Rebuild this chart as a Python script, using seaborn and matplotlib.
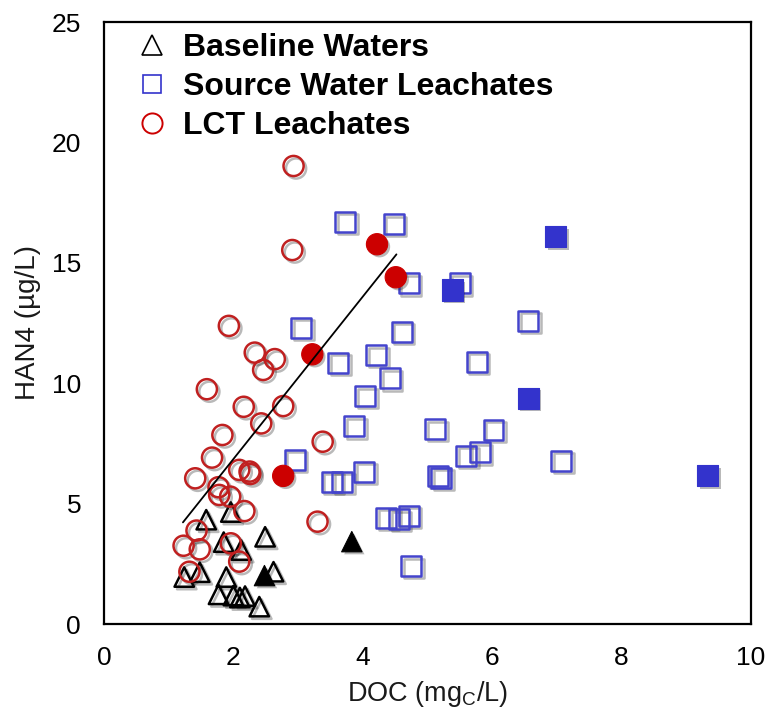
import numpy as np
import pandas as pd
import matplotlib
matplotlib.use("Agg")
import matplotlib.pyplot as plt
import seaborn as sns
from matplotlib import patheffects as pe
from matplotlib.lines import Line2D

# ---------------- data ----------------
# Baseline waters
base_doc = [1.58, 1.96, 2.49, 1.85, 2.12, 1.24, 1.48, 1.89, 2.62, 1.77, 2.00, 2.10, 2.18, 2.40]
base_han4 = [4.33, 4.65, 3.62, 3.40, 3.07, 1.95, 2.15, 1.95, 2.17, 1.23, 1.18, 1.10, 1.16, 0.72]
base_doc_f = [2.48, 3.83]
base_han4_f = [2.01, 3.42]

# Source water leachates
src_doc = [3.73, 4.48, 4.71, 5.50, 3.05, 4.60, 6.56, 3.62, 4.21, 4.42, 5.76, 4.04, 3.87, 5.12,
           6.02, 2.95, 5.81, 5.60, 7.07, 4.02, 3.52, 3.68, 5.16, 5.21, 4.36, 4.56, 4.71, 4.75]
src_han4 = [16.71, 16.61, 14.15, 14.15, 12.30, 12.14, 12.60, 10.85, 11.17, 10.20, 10.89, 9.47, 8.22, 8.10,
            8.06, 6.82, 7.13, 6.98, 6.78, 6.33, 5.91, 5.91, 6.15, 6.08, 4.42, 4.36, 4.49, 2.41]
src_doc_f = [5.38, 6.98, 6.56, 9.33]
src_han4_f = [13.87, 16.08, 9.37, 6.15]

# LCT leachates
lct_doc = [2.93, 2.91, 1.93, 2.33, 2.64, 2.46, 1.59, 2.16, 2.77, 2.43, 1.83, 3.38, 1.67, 2.09,
           2.25, 2.26, 1.41, 1.77, 1.78, 1.95, 2.17, 3.30, 1.43, 1.23, 1.48, 1.96, 2.09, 1.32]
lct_han4 = [19.02, 15.53, 12.38, 11.27, 11.00, 10.55, 9.75, 9.02, 9.05, 8.33, 7.85, 7.57, 6.91, 6.40,
            6.33, 6.23, 6.05, 5.68, 5.36, 5.29, 4.69, 4.25, 3.88, 3.25, 3.10, 3.35, 2.59, 2.17]
lct_doc_f = [4.22, 4.51, 3.22, 2.77]
lct_han4_f = [15.77, 14.40, 11.20, 6.15]

# trend line through LCT leachates
fit_doc = [1.22, 4.52]
fit_han4 = [4.22, 15.35]

legend_labels = ["Baseline Waters", "Source Water Leachates", "LCT Leachates"]
x_ticks = [0, 2, 4, 6, 8, 10]
y_ticks = [0, 5, 10, 15, 20, 25]

# ---------------- style ----------------
sns.set_theme(style="white")
plt.rcParams["font.family"] = ["Liberation Sans", "DejaVu Sans"]
plt.rcParams["mathtext.fontset"] = "custom"
plt.rcParams["mathtext.rm"] = "Liberation Sans"

RED = "#CC0000"
RED_EDGE = "#C02020"
BLUE = "#3333CC"
BLUE_EDGE = "#4444CC"

fig = plt.figure(figsize=(7.69, 7.13), dpi=100)
ax = fig.add_axes([104 / 769, 89 / 713, 647 / 769, 602 / 713])

open_fx = [pe.SimpleLineShadow(offset=(1.8, -1.8), shadow_color="k", alpha=0.3), pe.Normal()]
fill_fx = [pe.SimplePatchShadow(offset=(1.8, -1.8), shadow_rgbFace="k", alpha=0.3), pe.Normal()]


def scat(xs, ys, marker, size, face, edge, lw, fx, z):
    df = pd.DataFrame({"DOC": xs, "HAN4": ys})
    n0 = len(ax.collections)
    sns.scatterplot(data=df, x="DOC", y="HAN4", ax=ax, marker=marker, s=size,
                    facecolor=face, edgecolor=edge, linewidth=lw, zorder=z, legend=False)
    for c in ax.collections[n0:]:
        c.set_path_effects(fx)


scat(base_doc, base_han4, "^", 195, "none", "black", 1.8, open_fx, 3)
scat(src_doc, src_han4, "s", 205, "none", BLUE_EDGE, 1.8, open_fx, 4)
scat(lct_doc, lct_han4, "o", 210, "none", RED_EDGE, 1.8, open_fx, 5)
scat(src_doc_f, src_han4_f, "s", 230, BLUE, BLUE, 0.8, fill_fx, 6)
scat(lct_doc_f, lct_han4_f, "o", 235, RED, RED, 0.8, fill_fx, 7)
scat(base_doc_f, base_han4_f, "^", 215, "black", "black", 0.8, fill_fx, 7)

sns.lineplot(x=fit_doc, y=fit_han4, ax=ax, color="black", linewidth=1.3, zorder=8)

ax.set_xlim(0, 10)
ax.set_ylim(0, 25)
ax.set_xticks(x_ticks)
ax.set_yticks(y_ticks)
ax.set_xticklabels([str(v) for v in x_ticks])
ax.set_yticklabels([str(v) for v in y_ticks])

for sp in ax.spines.values():
    sp.set_visible(True)
    sp.set_color("black")
    sp.set_linewidth(1.6)

ax.tick_params(axis="both", direction="inout", length=11, width=1.5, color="black",
               labelcolor="black")
ax.tick_params(axis="x", labelsize=19, pad=10.5)
ax.tick_params(axis="y", labelsize=19, pad=11)

ax.set_xlabel("DOC (mg$_\\mathregular{C}$/L)", fontsize=19.5, labelpad=6, color="#1a1a1a")
ax.set_ylabel("HAN4 (µg/L)", fontsize=20, labelpad=8, color="#1a1a1a")
ax.grid(False)

handles = [
    Line2D([], [], linestyle="none", marker="^", markersize=14, markerfacecolor="none",
           markeredgecolor="black", markeredgewidth=1.2),
    Line2D([], [], linestyle="none", marker="s", markersize=13.5, markerfacecolor="none",
           markeredgecolor=BLUE, markeredgewidth=1.2),
    Line2D([], [], linestyle="none", marker="o", markersize=14.5, markerfacecolor="none",
           markeredgecolor=RED, markeredgewidth=1.4),
]
leg = ax.legend(handles, legend_labels, loc="upper left",
                bbox_to_anchor=((136 - 104) / 647, 1 - (33 - 22) / 602),
                frameon=False, borderpad=0, borderaxespad=0, handlelength=1.0,
                handletextpad=0.47, labelspacing=0.28,
                prop={"family": "Liberation Sans", "weight": "bold", "size": 23})
for t in leg.get_texts():
    t.set_color("black")

fig.savefig("out.png", dpi=100)
